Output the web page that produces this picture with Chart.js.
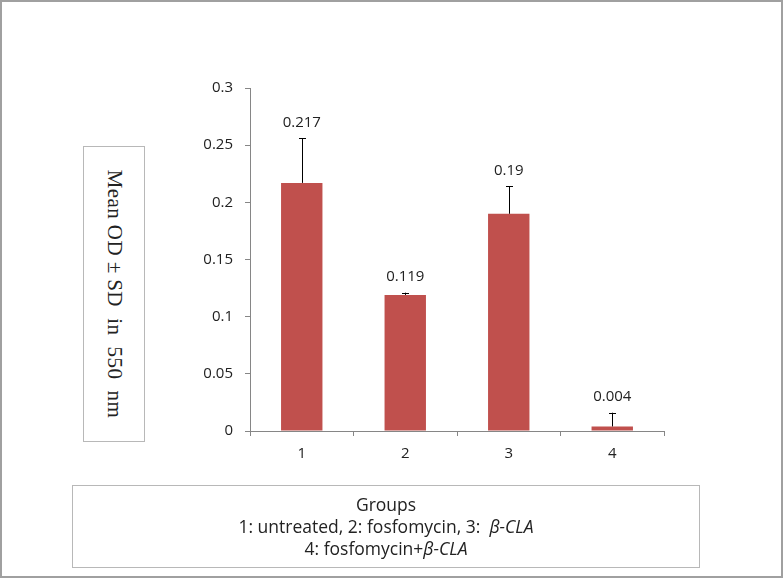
<!DOCTYPE html>
<html>
<head>
<meta charset="utf-8">
<script src="https://cdn.jsdelivr.net/npm/chart.js@4"></script>
<style>
  html, body { margin: 0; padding: 0; background: #fff; }
  #wrap { position: relative; width: 783px; height: 578px; box-sizing: border-box; border: 2px solid #a0a0a0; overflow: hidden; }
  #grafico { position: absolute; left: -2px; top: -2px; }
  #yBox { position: absolute; left: 81px; top: 144px; width: 62px; height: 296px; box-sizing: border-box; border: 1px solid #b8b8b8; background: #fff; }
  #yBox span { position: absolute; left: 50%; top: 50%; transform: translate(-50%, -50%) rotate(90deg); white-space: pre; font-family: "Liberation Serif", serif; font-size: 21px; letter-spacing: 0.4px; color: #222; }
  #legenda { position: absolute; left: 70px; top: 483px; width: 628px; height: 83px; box-sizing: border-box; border: 1px solid #b8b8b8; text-align: center; font-family: "Open Sans", sans-serif; font-size: 17.5px; line-height: 22px; color: #222; padding-top: 7px; }
</style>
</head>
<body>
<div id="wrap">
  <canvas id="grafico" width="783" height="578"></canvas>
  <div id="yBox"><span>Mean OD ± SD  in  550  nm</span></div>
  <div id="legenda">
    Groups<br>
    1: untreated, 2: fosfomycin, 3:&nbsp; <i>β-CLA</i><br>
    4: fosfomycin+<i>β-CLA</i>
  </div>
</div>
<script>
const grupos = ['1', '2', '3', '4']
const medias = [0.217, 0.119, 0.19, 0.004]
const desvios = [0.039, 0.002, 0.024, 0.012]
const rotulos = ['0.217', '0.119', '0.19', '0.004']

const corBarra = '#C0504D'
const corEixo = '#868686'

// barras de erro (só para cima) e rótulos de valor
const errosPlugin = {
    id: 'erros',
    afterDatasetsDraw(chart) {
        const ctx = chart.ctx
        const y = chart.scales.y
        const meta = chart.getDatasetMeta(0)
        ctx.save()
        meta.data.forEach((bar, i) => {
            const topo = y.getPixelForValue(medias[i] + desvios[i])
            const base = y.getPixelForValue(medias[i])
            ctx.strokeStyle = '#000'
            ctx.lineWidth = 1
            ctx.beginPath()
            ctx.moveTo(Math.round(bar.x) + 0.5, base)
            ctx.lineTo(Math.round(bar.x) + 0.5, topo)
            ctx.moveTo(Math.round(bar.x) - 3, Math.round(topo) + 0.5)
            ctx.lineTo(Math.round(bar.x) + 4, Math.round(topo) + 0.5)
            ctx.stroke()

            ctx.fillStyle = '#222'
            ctx.font = '15px "Open Sans", sans-serif'
            ctx.textAlign = 'center'
            ctx.textBaseline = 'middle'
            ctx.fillText(rotulos[i], bar.x, topo - 16)
        })
        ctx.restore()
    }
}

new Chart(document.getElementById('grafico'), {
    type: 'bar',
    data: {
        labels: grupos,
        datasets: [{
            data: medias,
            backgroundColor: corBarra,
            borderWidth: 0,
            barPercentage: 0.4,
            categoryPercentage: 1
        }]
    },
    options: {
        responsive: false,
        animation: false,
        layout: { padding: { left: 190, top: 88, right: 119, bottom: 107 } },
        plugins: { legend: { display: false }, tooltip: { enabled: false } },
        scales: {
            x: {
                afterFit: (s) => { s.height = 40 },
                grid: { drawOnChartArea: false, drawTicks: true, tickLength: 5, color: corEixo, offset: true },
                border: { color: corEixo, width: 1 },
                ticks: { color: '#222', padding: 9, font: { family: 'Open Sans', size: 15 } }
            },
            y: {
                min: 0,
                max: 0.3,
                afterFit: (s) => { s.width = 60 },
                grid: { drawOnChartArea: false, drawTicks: true, tickLength: 5, color: corEixo },
                border: { color: corEixo, width: 1 },
                ticks: {
                    stepSize: 0.05,
                    color: '#222',
                    padding: 12,
                    font: { family: 'Open Sans', size: 15 },
                    callback: (v) => String(Math.round(v * 100) / 100)
                }
            }
        }
    },
    plugins: [errosPlugin]
})
</script>
</body>
</html>
